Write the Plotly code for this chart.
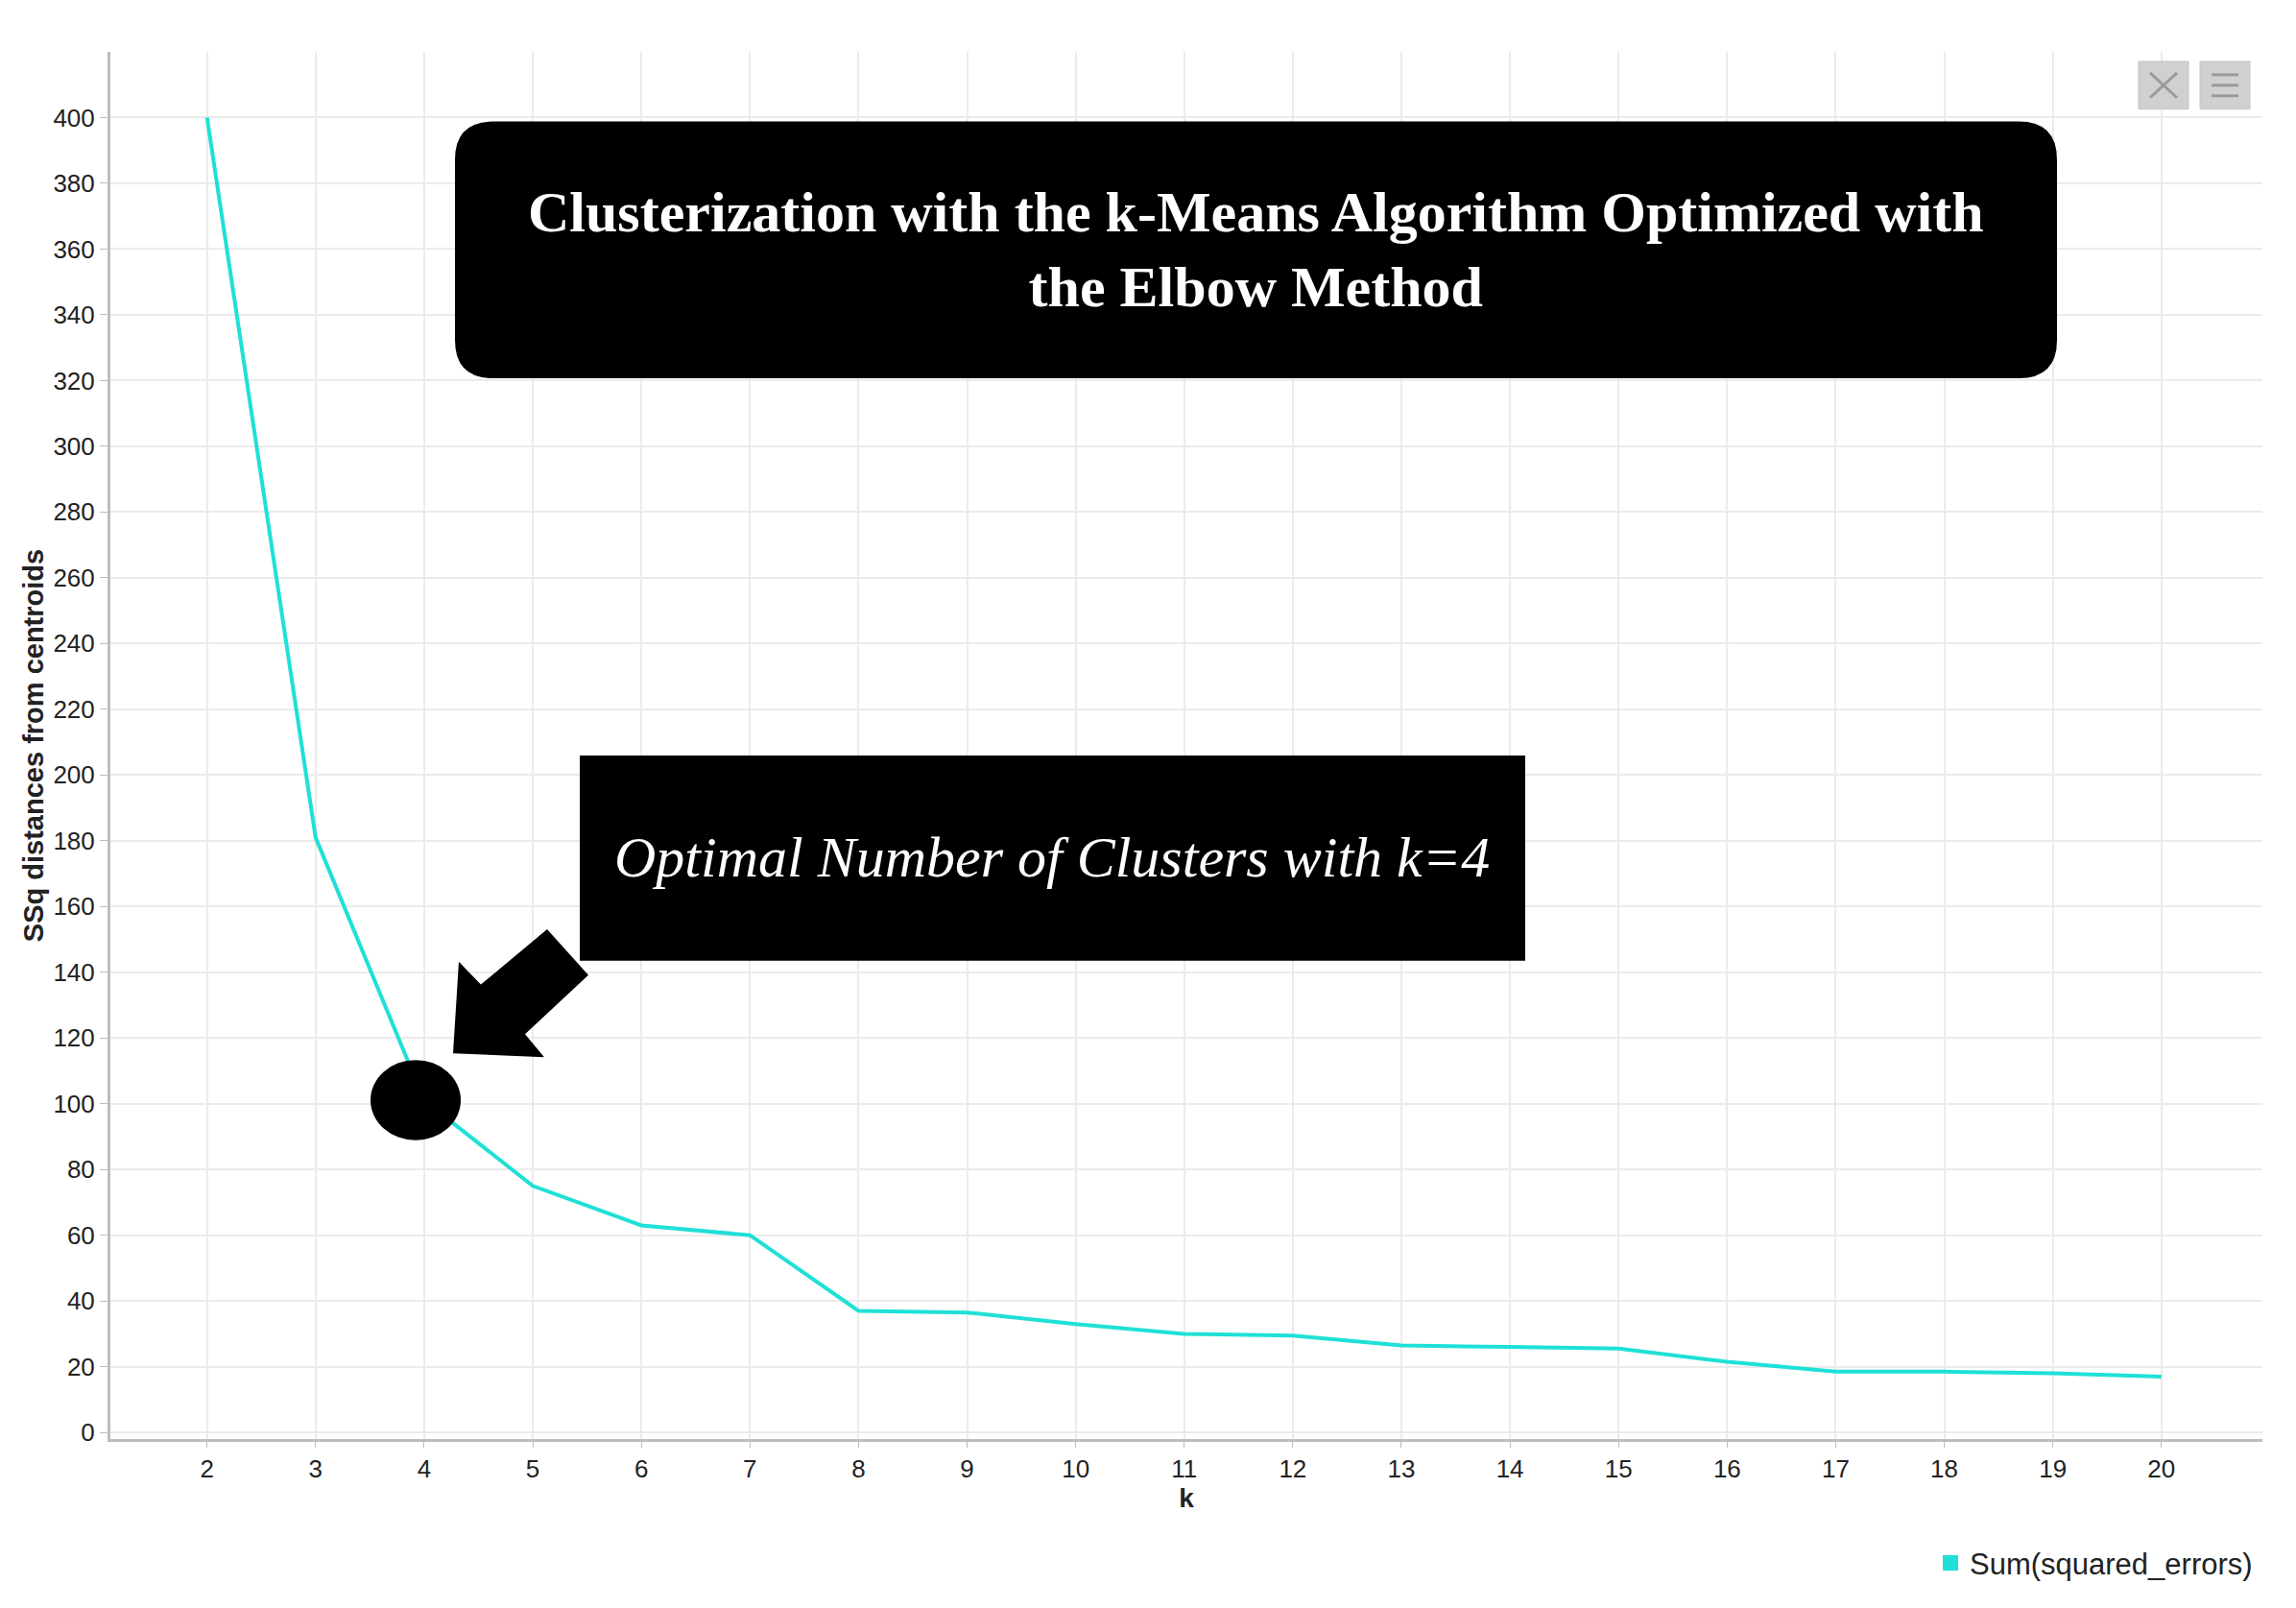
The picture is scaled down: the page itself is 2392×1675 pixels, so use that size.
import plotly.graph_objects as go

k_values = list(range(2, 21))
sse_values = [400, 181, 101, 75, 63, 60, 37, 36.5, 33, 30, 29.5, 26.5, 26, 25.5, 21.5, 18.5, 18.5, 18, 17]
y_ticks = list(range(0, 401, 20))
series_name = "Sum(squared_errors)"
title_text = "Clusterization with the k-Means Algorithm Optimized with<br>the Elbow Method"
note_text = "Optimal Number of Clusters with k=4"

OFF = 8  # page body margin
W, H = 2376, 1659
PL, PR, PT, PB = 115, 2357, 54, 1507  # plot area in page pixels
L, T = PL - OFF, PT - OFF
R, B = W - (PR - OFF), H - (PB - OFF)
PW, PH = PR - PL, PB - PT

def px(x):
    return (x - PL) / PW

def py(y):
    return (PB - y) / PH

fig = go.Figure()
fig.add_trace(go.Scatter(x=k_values, y=sse_values, mode="lines", name=series_name, showlegend=False,
                         line=dict(color="#1fe0d6", width=4)))
fig.add_trace(go.Scatter(x=[None], y=[None], mode="markers", name=series_name,
                         marker=dict(symbol="square", size=16, color="#1fe0d6")))

shapes = []
x0, x1, y0, y1, r = 474, 2143, 127, 396, 40
path = (f"M {px(x0+r)} {py(y0)} L {px(x1-r)} {py(y0)} Q {px(x1)} {py(y0)} {px(x1)} {py(y0+r)} "
        f"L {px(x1)} {py(y1-r)} Q {px(x1)} {py(y1)} {px(x1-r)} {py(y1)} L {px(x0+r)} {py(y1)} "
        f"Q {px(x0)} {py(y1)} {px(x0)} {py(y1-r)} L {px(x0)} {py(y0+r)} Q {px(x0)} {py(y0)} {px(x0+r)} {py(y0)} Z")
shapes.append(dict(type="path", xref="paper", yref="paper", path=path, fillcolor="black", line=dict(width=0)))
shapes.append(dict(type="rect", xref="paper", yref="paper", x0=px(604), x1=px(1589), y0=py(1006), y1=py(791),
                   fillcolor="black", line=dict(width=0)))
pts = [(472, 1103), (478, 1007), (501, 1031), (570, 973), (613, 1021), (547, 1083), (567, 1107)]
apath = "M " + " L ".join(f"{px(a)} {py(b)}" for a, b in pts) + " Z"
shapes.append(dict(type="path", xref="paper", yref="paper", path=apath, fillcolor="black", line=dict(width=0)))
shapes.append(dict(type="circle", xref="paper", yref="paper", x0=px(386), x1=px(480), y0=py(1194), y1=py(1110),
                   fillcolor="black", line=dict(width=0)))
for bx in (2228, 2292):
    shapes.append(dict(type="rect", xref="paper", yref="paper", x0=px(bx), x1=px(bx + 52), y0=py(114), y1=py(64),
                       fillcolor="#d0d0d0", line=dict(color="#c4c4c4", width=1)))
for yy in (78, 89, 100):
    shapes.append(dict(type="line", xref="paper", yref="paper", x0=px(2304), x1=px(2332), y0=py(yy), y1=py(yy),
                       line=dict(color="#9a9a9a", width=3)))
shapes.append(dict(type="line", xref="paper", yref="paper", x0=px(2240), x1=px(2268), y0=py(76), y1=py(102),
                   line=dict(color="#9a9a9a", width=3)))
shapes.append(dict(type="line", xref="paper", yref="paper", x0=px(2240), x1=px(2268), y0=py(102), y1=py(76),
                   line=dict(color="#9a9a9a", width=3)))

annotations = [
    dict(xref="paper", yref="paper", x=px(1308), y=py(261), yanchor="middle", text=f"<b>{title_text}</b>",
         showarrow=False, font=dict(family="Liberation Serif", size=60, color="white"), align="center"),
    dict(xref="paper", yref="paper", x=px(1096), y=py(898), yanchor="middle", text=f"<i>{note_text}</i>",
         showarrow=False, font=dict(family="Liberation Serif", size=60, color="white")),
]

fig.update_layout(
    width=W, height=H, margin=dict(l=L, r=R, t=T, b=B),
    paper_bgcolor="white", plot_bgcolor="white",
    shapes=shapes, annotations=annotations,
    font=dict(family="Liberation Sans", color="#222"),
    showlegend=True,
    legend=dict(x=px(2352), xanchor="right", y=py(1637), yanchor="middle", font=dict(size=31, color="#222"),
                itemwidth=30),
    xaxis=dict(range=[1.11, 20.93], tickmode="array", tickvals=k_values, ticktext=[str(k) for k in k_values],
               showgrid=True, gridcolor="#ebebeb", gridwidth=2, zeroline=False,
               showline=True, linecolor="#bdbdbd", linewidth=3, ticks="outside", ticklen=6, tickcolor="#bdbdbd",
               tickfont=dict(size=26), title=dict(text="<b>k</b>", font=dict(size=28), standoff=6)),
    yaxis=dict(range=[-2, 420], tickmode="array", tickvals=y_ticks, showgrid=True, gridcolor="#ebebeb", gridwidth=2,
               zeroline=False, showline=True, linecolor="#bdbdbd", linewidth=3, ticks="outside", ticklen=8,
               tickcolor="#bdbdbd", tickfont=dict(size=26),
               title=dict(text="<b>SSq distances from centroids</b>", font=dict(size=29), standoff=2)),
)
fig.write_html("out.html")
